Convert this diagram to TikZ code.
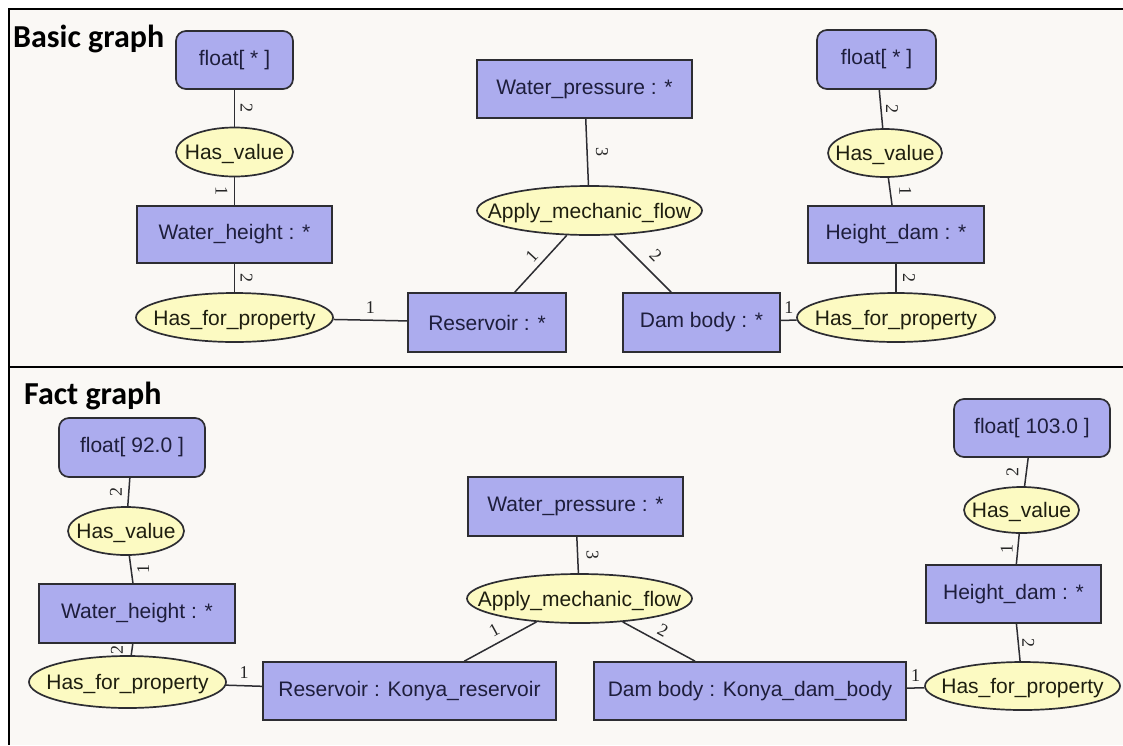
\documentclass[tikz,border=0pt]{standalone}
\usepackage{fontspec}
\setmainfont{Liberation Sans}
\newfontfamily\titlefont{Carlito}
\newfontfamily\labfont{Liberation Serif}
\usetikzlibrary{shapes.geometric}
\definecolor{boxfill}{RGB}{172,172,238}
\definecolor{ellfill}{RGB}{252,250,194}
\definecolor{bgcol}{RGB}{250,248,245}
\definecolor{bordcol}{RGB}{45,45,50}
\definecolor{boxtext}{RGB}{30,30,60}
\definecolor{elltext}{RGB}{30,30,15}
\newcommand\zt[1]{\raisebox{-.36em}[0pt][0pt]{\makebox[0pt]{#1}}}
\begin{document}
\begin{tikzpicture}[x=1pt,y=-1pt,
  cbox/.style={rectangle, draw=bordcol, line width=1.7pt, fill=boxfill, text=boxtext,
    inner sep=0pt, font=\fontsize{21}{25}\selectfont},
  rbox/.style={cbox, rounded corners=10pt},
  rel/.style={ellipse, draw=bordcol, line width=1.7pt, fill=ellfill, text=elltext,
    inner sep=0pt, font=\fontsize{21}{25}\selectfont},
  conn/.style={draw=bordcol, line width=1.5pt},
  elab/.style={font=\labfont\fontsize{18}{20}\selectfont, inner sep=0pt, text=black!85},
  gtitle/.style={font=\titlefont\bfseries\fontsize{32}{36}\selectfont, anchor=base west, inner sep=0pt},
  frame/.style={draw=black, line width=1.6pt}]
\useasboundingbox (0,0) rectangle (1123,745);
\fill[white] (0,0) rectangle (1123,745);
\fill[bgcol] (9,9) rectangle (1123,745);
\draw[frame] (1123,9) -- (9,9) -- (9,745);
\draw[frame] (9,367) -- (1123,367);

% ---------- Basic graph ----------
\node[gtitle] (tbasic) at (13,47) {Basic graph};
\node[rbox, minimum width=117pt, minimum height=58pt] (bf1) at (234.5,60) {float[ * ]};
\node[rel, minimum width=117pt, minimum height=49pt] (bhv1) at (234.5,152) {\zt{Has\_value}};
\node[cbox, minimum width=195pt, minimum height=57pt] (bwh) at (234.5,234.5) {Water\_height : *};
\node[rel, minimum width=197pt, minimum height=49pt] (bhfp1) at (234.5,317.5) {\zt{Has\_for\_property}};
\node[cbox, minimum width=215pt, minimum height=58pt] (bwp) at (584.5,89) {Water\_pressure : *};
\node[rel, minimum width=225pt, minimum height=49pt] (bamf) at (589.5,210.5) {\zt{Apply\_mechanic\_flow}};
\node[cbox, minimum width=158pt, minimum height=59pt] (bres) at (487,322.5) {Reservoir : *};
\node[cbox, minimum width=157pt, minimum height=59pt] (bdam) at (701.5,322.5) {Dam body : *};
\node[rbox, minimum width=119pt, minimum height=59pt] (bf2) at (876.5,59.5) {float[ * ]};
\node[rel, minimum width=114pt, minimum height=48pt] (bhv2) at (885,153) {\zt{Has\_value}};
\node[cbox, minimum width=176pt, minimum height=57pt] (bhd) at (896,234.5) {Height\_dam : *};
\node[rel, minimum width=198pt, minimum height=49pt] (bhfp2) at (896,317.5) {\zt{Has\_for\_property}};

\draw[conn] (bf1) -- node[elab, xshift=12pt, rotate=-90] {2} (bhv1);
\draw[conn] (bhv1) -- node[elab, xshift=-13pt, rotate=-90] {1} (bwh);
\draw[conn] (bwh) -- node[elab, xshift=12pt, rotate=-90] {2} (bhfp1);
\draw[conn] (bhfp1) -- node[elab, yshift=13pt] {1} (bres);
\draw[conn] (bwp) -- node[elab, xshift=15pt, rotate=-90] {3} (bamf);
\draw[conn] (bamf) -- node[elab, xshift=-9pt, yshift=8pt, rotate=47.5] {1} (bres);
\draw[conn] (bamf) -- node[elab, xshift=13pt, yshift=8pt, rotate=-45] {2} (bdam);
\draw[conn] (bdam) -- node[elab, yshift=13pt] {1} (bhfp2);
\draw[conn] (bf2) -- node[elab, xshift=11pt, rotate=-90] {2} (bhv2);
\draw[conn] (bhv2) -- node[elab, xshift=15pt, rotate=-90] {1} (bhd);
\draw[conn] (bhd) -- node[elab, xshift=13pt, rotate=-90] {2} (bhfp2);

% ---------- Fact graph ----------
\node[gtitle] (tfact) at (24,404) {Fact graph};
\node[rbox, minimum width=146pt, minimum height=59pt] (ff1) at (132,447.5) {float[ 92.0 ]};
\node[rel, minimum width=116pt, minimum height=48pt] (fhv1) at (126,531) {\zt{Has\_value}};
\node[cbox, minimum width=196pt, minimum height=59pt] (fwh) at (137,613.5) {Water\_height : *};
\node[rel, minimum width=197pt, minimum height=52pt] (fhfp1) at (127.5,682) {\zt{Has\_for\_property}};
\node[cbox, minimum width=293pt, minimum height=58pt] (fres) at (409.5,691) {Reservoir : Konya\_reservoir};
\node[cbox, minimum width=215pt, minimum height=59pt] (fwp) at (575.5,506.5) {Water\_pressure : *};
\node[rel, minimum width=225pt, minimum height=49pt] (famf) at (579.5,598.5) {\zt{Apply\_mechanic\_flow}};
\node[cbox, minimum width=312pt, minimum height=58pt] (fdam) at (750,691) {Dam body : Konya\_dam\_body};
\node[rbox, minimum width=156pt, minimum height=58pt] (ff2) at (1032,428) {float[ 103.0 ]};
\node[rel, minimum width=115pt, minimum height=46pt] (fhv2) at (1021.5,510) {\zt{Has\_value}};
\node[cbox, minimum width=175pt, minimum height=58pt] (fhd) at (1013.5,594) {Height\_dam : *};
\node[rel, minimum width=195pt, minimum height=48pt] (fhfp2) at (1022.5,686) {\zt{Has\_for\_property}};

\draw[conn] (ff1) -- node[elab, xshift=-13pt, rotate=90] {2} (fhv1);
\draw[conn] (fhv1) -- node[elab, xshift=12pt, rotate=90] {1} (fwh);
\draw[conn] (fwh) -- node[elab, xshift=-15pt, rotate=90] {2} (fhfp1);
\draw[conn] (fhfp1) -- node[elab, yshift=13pt] {1} (fres);
\draw[conn] (fwp) -- node[elab, xshift=15pt, rotate=-90] {3} (famf);
\draw[conn] (famf) -- node[elab, xshift=-6pt, yshift=11pt, rotate=28.5] {1} (fres);
\draw[conn] (famf) -- node[elab, xshift=4pt, yshift=11pt, rotate=-28.5] {2} (fdam);
\draw[conn] (fdam) -- node[elab, yshift=12pt] {1} (fhfp2);
\draw[conn] (ff2) -- node[elab, xshift=-14pt, rotate=90] {2} (fhv2);
\draw[conn] (fhv2) -- node[elab, xshift=-11pt, rotate=90] {1} (fhd);
\draw[conn] (fhd) -- node[elab, xshift=10pt, rotate=-90] {2} (fhfp2);
\end{tikzpicture}
\end{document}
